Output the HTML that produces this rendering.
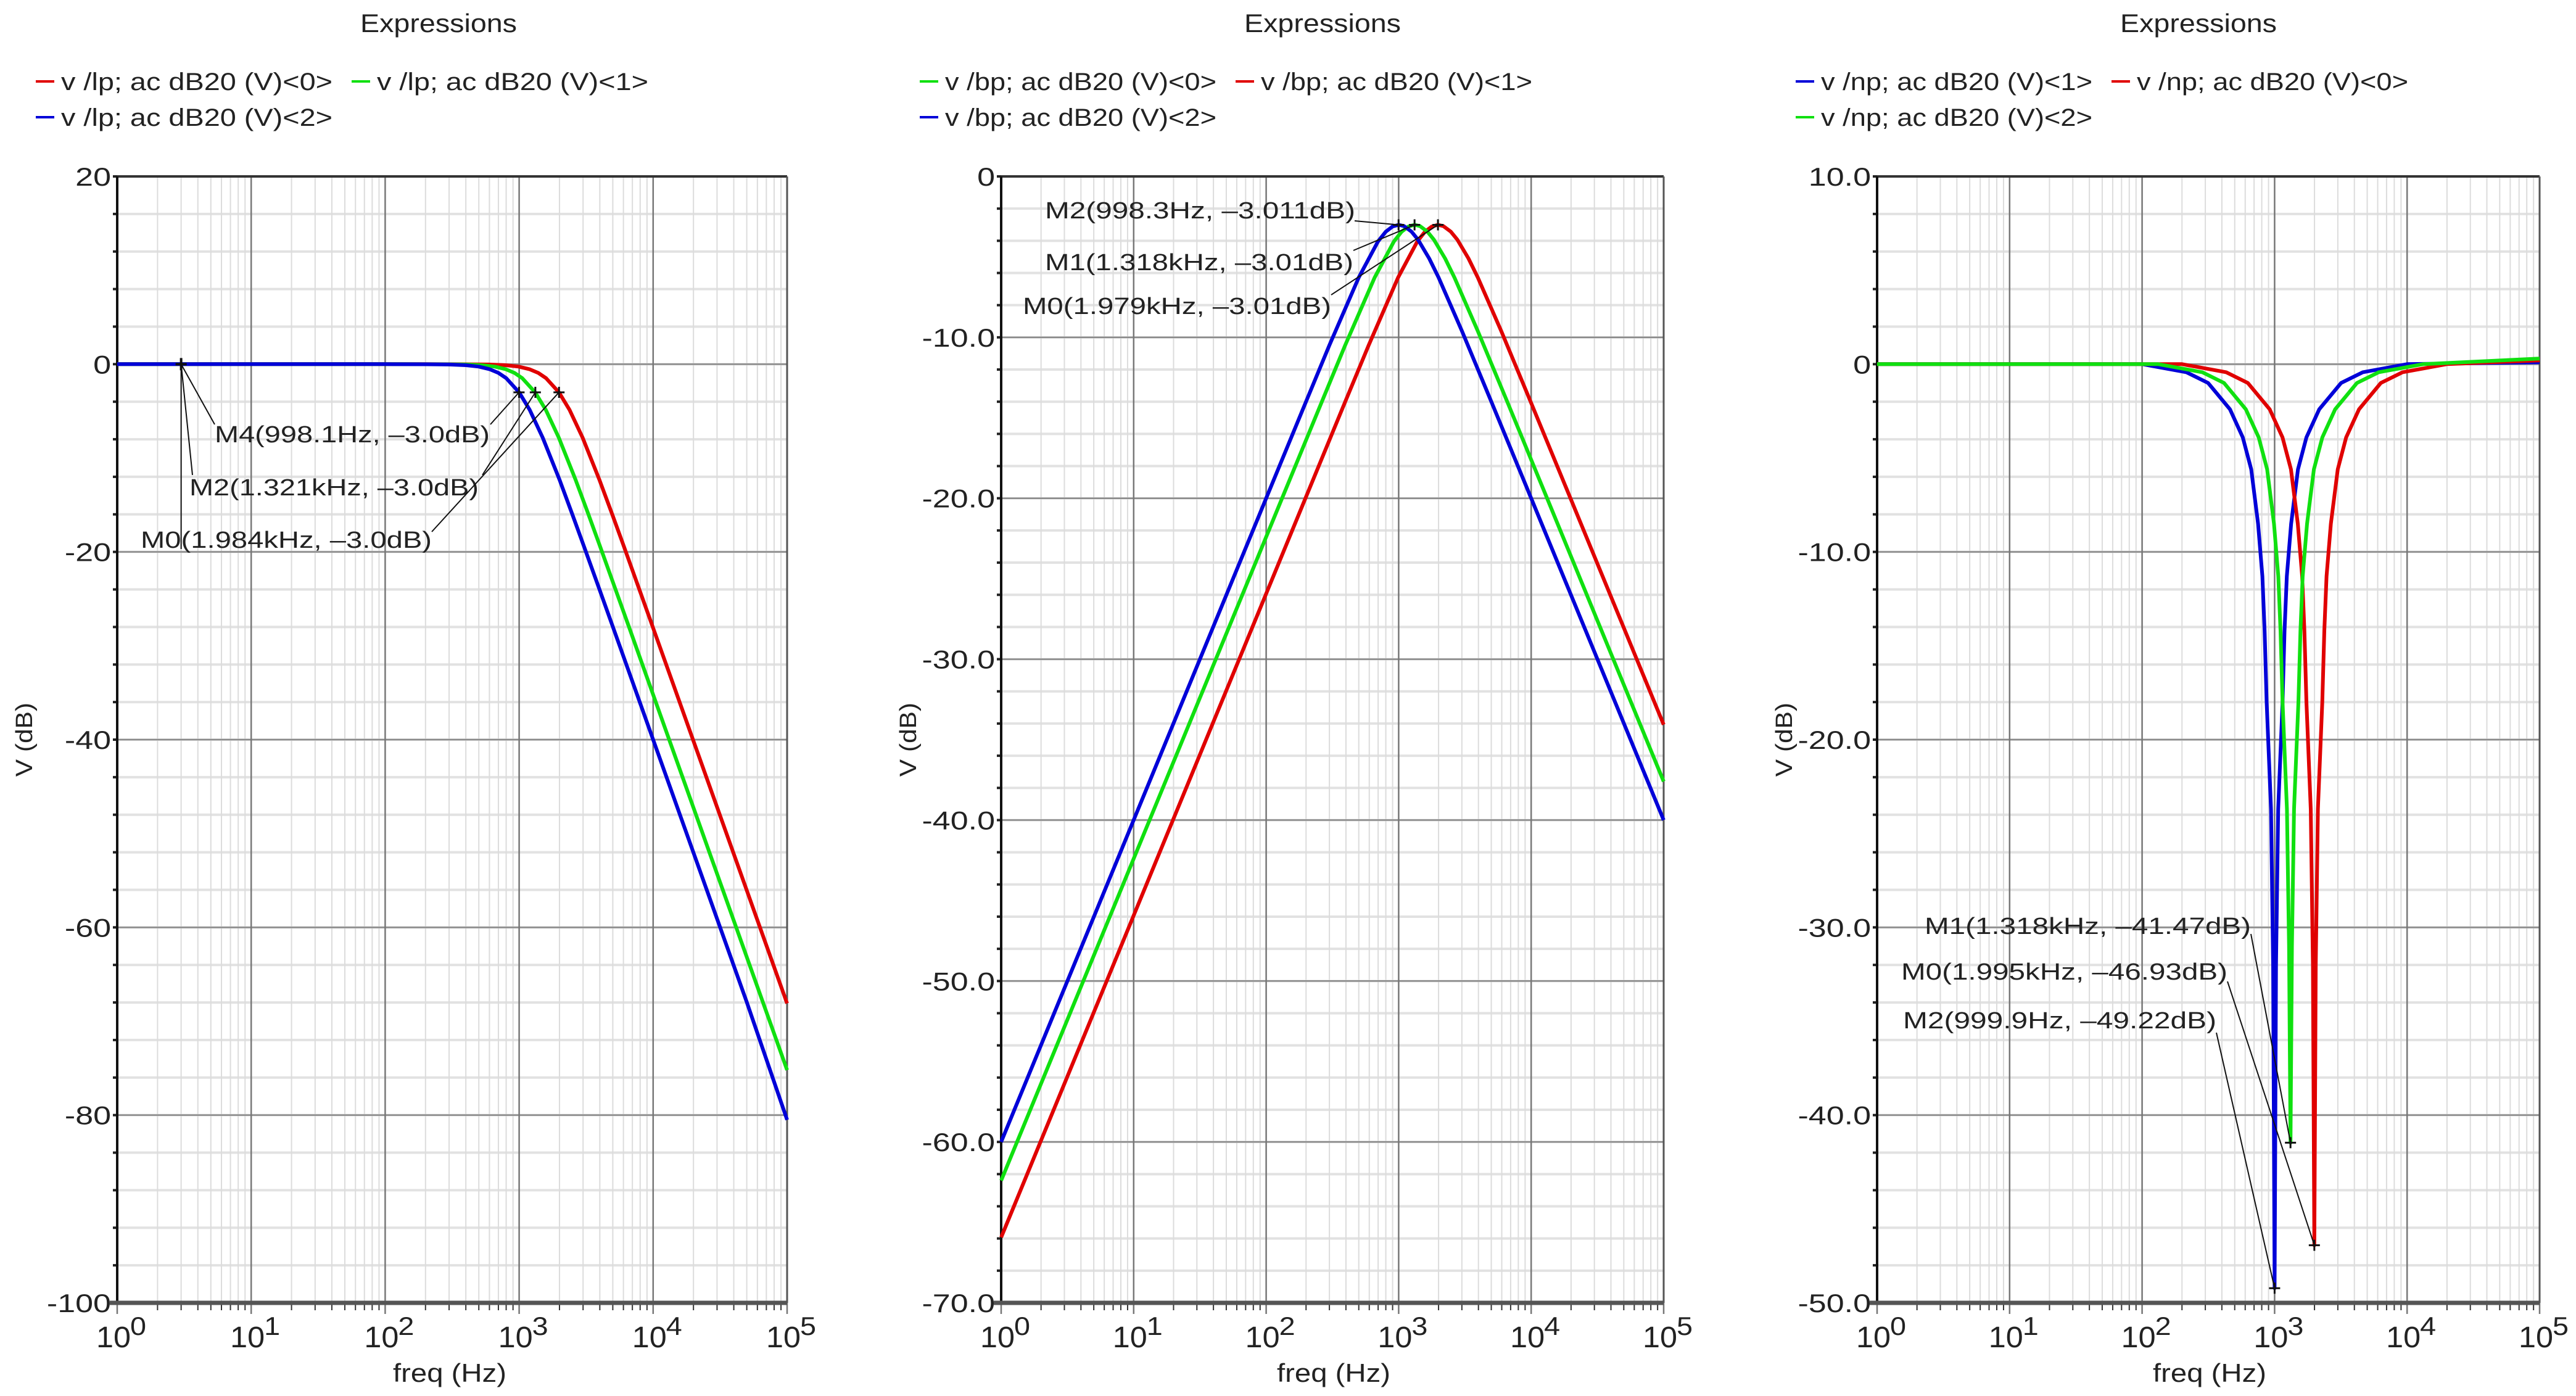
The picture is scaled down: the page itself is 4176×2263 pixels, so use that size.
<!DOCTYPE html>
<html><head><meta charset="utf-8"><style>
html,body{margin:0;padding:0;background:#fff;}
svg{display:block;}
text{font-family:"Liberation Sans","DejaVu Sans",sans-serif;fill:#222;}
</style></head><body>
<svg id="chart" xmlns="http://www.w3.org/2000/svg" width="4176" height="2263" viewBox="0 0 4176 2263"></svg>
<script>
// ---- Low-pass data ----
const lpFreqRed=[1,10,198,397,595,794,992,1190,1389,1587,1984,2381,2976,3968,4960,5952,7936,9920,13888,19840,39680,99200,100000];
const lpDbRed=[0,0,0,-0.01,-0.04,-0.11,-0.26,-0.53,-0.93,-1.49,-3.01,-4.88,-7.83,-12.3,-16.03,-19.14,-24.1,-27.96,-33.8,-40,-52.04,-67.96,-68.1];
const lpFreqGreen=[1,10,132,264,395,527,659,791,923,1054,1318,1582,1977,2636,3295,3954,5272,6590,9226,13180,26360,65900,100000];
const lpDbGreen=[0,0,0,-0.01,-0.04,-0.11,-0.26,-0.53,-0.93,-1.49,-3.01,-4.88,-7.83,-12.3,-16.03,-19.14,-24.1,-27.96,-33.8,-40,-52.04,-67.96,-75.2];
const lpFreqBlue=[1,10,100,200,300,400,500,600,700,800,1000,1200,1500,2000,2500,3000,4000,5000,7000,10000,20000,50000,100000];
const lpDbBlue=[0,0,0,-0.01,-0.04,-0.11,-0.26,-0.53,-0.93,-1.49,-3.01,-4.88,-7.83,-12.3,-16.03,-19.14,-24.1,-27.96,-33.8,-40,-52.04,-67.96,-80.5];
const lpMarkerFreq=[998.1,1321,1984];
const lpMarkerDb=[-3.0,-3.0,-3.0];
const lpMarkerLabels=["M4(998.1Hz, \u20133.0dB)","M2(1.321kHz, \u20133.0dB)","M0(1.984kHz, \u20133.0dB)"];
// ---- Band-pass data ----
const bpFreqRed=[1,19.79,197.9,395.8,594,990,1385,1583,1781,1979,2177,2474,2771,3364,3958,5937,9895,19790,59370,100000];
const bpDbRed=[-65.93,-40,-20,-13.99,-10.49,-6.28,-4.03,-3.43,-3.11,-3.01,-3.09,-3.43,-3.93,-5.1,-6.28,-9.6,-13.99,-20,-29.54,-34.07];
const bpFreqGreen=[1,13.18,131.8,263.6,395,659,923,1054,1186,1318,1450,1648,1845,2241,2636,3954,6590,13180,39540,100000];
const bpDbGreen=[-62.4,-40,-20,-13.99,-10.49,-6.28,-4.03,-3.43,-3.11,-3.01,-3.09,-3.43,-3.93,-5.1,-6.28,-9.6,-13.99,-20,-29.54,-37.6];
const bpFreqBlue=[1,10,100,200,300,500,700,800,900,1000,1100,1250,1400,1700,2000,3000,5000,10000,30000,100000];
const bpDbBlue=[-60,-40,-20,-13.99,-10.49,-6.28,-4.03,-3.43,-3.11,-3.01,-3.09,-3.43,-3.93,-5.1,-6.28,-9.6,-13.99,-20,-29.54,-40];
const bpMarkerFreq=[998.3,1318,1979];
const bpMarkerDb=[-3.011,-3.01,-3.01];
const bpMarkerLabels=["M2(998.3Hz, \u20133.011dB)","M1(1.318kHz, \u20133.01dB)","M0(1.979kHz, \u20133.01dB)"];
// ---- Notch data ----
const npFreqBlue=[1,100,216,315,460,575,666,750,809,841,871,940,975,999.9,1025,1064,1148,1189,1236,1333,1502,1739,2174,3175,4630,10000,100000];
const npDbBlue=[0,0,-0.43,-1.0,-2.4,-3.9,-5.6,-8.5,-11.3,-14.2,-18.0,-23.7,-32,-49.22,-32,-23.7,-18.0,-14.2,-11.3,-8.5,-5.6,-3.9,-2.4,-1.0,-0.43,0,0.1];
const npFreqRed=[1,200,431,628,918,1147,1329,1496,1614,1678,1738,1875,1945,1995,2045,2123,2290,2372,2466,2659,2996,3469,4337,6334,9237,19950,100000];
const npDbRed=[0,0,-0.43,-1.0,-2.4,-3.9,-5.6,-8.5,-11.3,-14.2,-18.0,-23.7,-32,-46.93,-32,-23.7,-18.0,-14.2,-11.3,-8.5,-5.6,-3.9,-2.4,-1.0,-0.43,0,0.2];
const npFreqGreen=[1,132,285,415,606,758,878,989,1066,1108,1148,1239,1285,1318,1351,1402,1513,1567,1629,1757,1980,2292,2865,4185,6102,13180,100000];
const npDbGreen=[0,0,-0.43,-1.0,-2.4,-3.9,-5.6,-8.5,-11.3,-14.2,-18.0,-23.7,-31,-41.47,-31,-23.7,-18.0,-14.2,-11.3,-8.5,-5.6,-3.9,-2.4,-1.0,-0.43,0,0.3];
const npMarkerFreq=[1318,1995,999.9];
const npMarkerDb=[-41.47,-46.93,-49.22];
const npMarkerLabels=["M1(1.318kHz, \u201341.47dB)","M0(1.995kHz, \u201346.93dB)","M2(999.9Hz, \u201349.22dB)"];
// ---- tick labels ----
const lpYTicks=[20,0,-20,-40,-60,-80,-100];
const lpYLabels=["20","0","-20","-40","-60","-80","-100"];
const bpYTicks=[0,-10,-20,-30,-40,-50,-60,-70];
const bpYLabels=["0","-10.0","-20.0","-30.0","-40.0","-50.0","-60.0","-70.0"];
const npYTicks=[10,0,-10,-20,-30,-40,-50];
const npYLabels=["10.0","0","-10.0","-20.0","-30.0","-40.0","-50.0"];
const xDecades=[0,1,2,3,4,5];

const NS="http://www.w3.org/2000/svg";
const svg=document.getElementById('chart');
const RED="#e00000",GREEN="#10e010",BLUE="#0000d8";
function mk(tag,attrs,parent){const e=document.createElementNS(NS,tag);for(const k in attrs)e.setAttribute(k,attrs[k]);(parent||svg).appendChild(e);return e;}
const EM={'0':.556,'1':.556,'2':.556,'3':.556,'4':.556,'5':.556,'6':.556,'7':.556,'8':.556,'9':.556,'-':.333,'.':.278};
function tw(s,px){let w=0;for(const c of s)w+=(EM[c]||.556);return w*px;}

function drawPlot(cfg){
  const g=mk('g',{});
  
  
  const L=cfg.left,R=cfg.right,T=286,B=2112;
  const xs=f=>L+(Math.log10(f))/5*(R-L);
  const ys=v=>T+(cfg.ymax-v)/(cfg.ymax-cfg.ymin)*(B-T);
  const t=mk('text',{x:L+521,y:52,'text-anchor':'middle','font-size':42,textLength:254,lengthAdjust:'spacingAndGlyphs'},g);
  t.textContent='Expressions';
  
  
  cfg.legend.forEach((le,i)=>{
    const lx=L-132+(i===1?512:0), ly=(i===2?190:132);
    const lg=mk('g',{},g);
    
    
    mk('line',{x1:lx,y1:ly,x2:lx+30,y2:ly,stroke:le.c,'stroke-width':4},lg);
    const tx=mk('text',{x:lx+41,y:ly+14,'font-size':40,textLength:440,lengthAdjust:'spacingAndGlyphs'},lg);
    tx.textContent=le.t;
  });
  const grid=mk('g',{},g);
  
  
  for(let v=cfg.ymax;v>=cfg.ymin-1e-9;v-=cfg.minor){
    const y=ys(v);
    mk('line',{x1:L,y1:y,x2:R,y2:y,stroke:'#e2e2e2','stroke-width':4},grid);
    mk('line',{x1:L-7,y1:y,x2:L,y2:y,stroke:'#222','stroke-width':4},grid);
  }
  for(let d=0;d<5;d++)for(let k=2;k<=9;k++){
    const x=xs(k*Math.pow(10,d));
    mk('line',{x1:x,y1:T,x2:x,y2:B,stroke:'#dcdcdc','stroke-width':2},grid);
    mk('line',{x1:x,y1:B,x2:x,y2:B+12,stroke:'#333','stroke-width':2},grid);
  }
  cfg.yt.forEach(v=>{const y=ys(v);mk('line',{x1:L,y1:y,x2:R,y2:y,stroke:'#8a8a8a','stroke-width':2.5},grid);});
  xDecades.forEach(d=>{const x=xs(Math.pow(10,d));mk('line',{x1:x,y1:T,x2:x,y2:B+18,stroke:'#777','stroke-width':2.5},grid);});
  mk('line',{x1:L,y1:T,x2:R,y2:T,stroke:'#333','stroke-width':4},g);
  mk('line',{x1:R,y1:T,x2:R,y2:B,stroke:'#555','stroke-width':3},g);
  mk('line',{x1:L,y1:T,x2:L,y2:B,stroke:'#111','stroke-width':4},g);
  mk('line',{x1:L-12,y1:B,x2:R,y2:B,stroke:'#555','stroke-width':7},g);
  cfg.yt.forEach((v,i)=>{
    const s=cfg.yl[i];
    const tx=mk('text',{x:L-10,y:ys(v)+15,'text-anchor':'end','font-size':42,textLength:tw(s,52).toFixed(1),lengthAdjust:'spacingAndGlyphs'},g);
    tx.textContent=s;
    
    
  });
  xDecades.forEach(d=>{
    const x=xs(Math.pow(10,d));
    const tx=mk('text',{x:x-34,y:2184,'font-size':48,textLength:56,lengthAdjust:'spacingAndGlyphs'},g);
    tx.textContent='10';
    
    
    const sp=mk('text',{x:x+21,y:2164,'font-size':42,textLength:26,lengthAdjust:'spacingAndGlyphs'},g);
    sp.textContent=String(d);
  });
  const xl=mk('text',{x:L+539,y:2240,'text-anchor':'middle','font-size':42,textLength:184,lengthAdjust:'spacingAndGlyphs'},g);
  xl.textContent='freq (Hz)';
  
  
  const yl=mk('text',{x:0,y:0,'text-anchor':'middle','font-size':38,textLength:120,lengthAdjust:'spacingAndGlyphs',transform:`translate(${L-138},1199) rotate(-90)`},g);
  yl.textContent='V (dB)';
  
  
  cfg.series.forEach(s=>{
    let d='';
    s.f.forEach((f,i)=>{d+=(i?'L':'M')+xs(f).toFixed(1)+','+ys(s.v[i]).toFixed(1);});
    const p=mk('path',{d:d,fill:'none',stroke:s.c,'stroke-width':6,'stroke-linejoin':'round'},g);
    
    
  });
  cfg.mf.forEach((f,i)=>{
    const mx=xs(f),my=ys(cfg.mv[i]);
    const lab=cfg.lab[i];
    mk('line',{x1:lab.ex,y1:lab.ey,x2:mx,y2:my,stroke:'#111','stroke-width':2},g);
    const m=mk('path',{d:`M${mx-9},${my}H${mx+9}M${mx},${my-9}V${my+9}`,stroke:'#111','stroke-width':3},g);
    
    
    const tx=mk('text',{x:lab.x,y:lab.y,'font-size':38,textLength:lab.w,lengthAdjust:'spacingAndGlyphs'},g);
    tx.textContent=cfg.ml[i];
    
    
  });
  return {xs,ys,g};
}

const p1=drawPlot({name:'lowpass-plot',left:190,right:1276,ymax:20,ymin:-100,minor:4,yt:lpYTicks,yl:lpYLabels,
  legend:[{c:RED,t:'v /lp; ac dB20 (V)<0>'},{c:GREEN,t:'v /lp; ac dB20 (V)<1>'},{c:BLUE,t:'v /lp; ac dB20 (V)<2>'}],
  series:[{name:'lp-series-0',c:RED,f:lpFreqRed,v:lpDbRed},{name:'lp-series-1',c:GREEN,f:lpFreqGreen,v:lpDbGreen},{name:'lp-series-2',c:BLUE,f:lpFreqBlue,v:lpDbBlue}],
  mf:lpMarkerFreq,mv:lpMarkerDb,ml:lpMarkerLabels,
  lab:[{x:348,y:717,w:446,ex:795,ey:688},{x:307,y:803,w:469,ex:782,ey:770},{x:228,y:888,w:472,ex:700,ey:862}]});
(function(){
  const rx=p1.xs(3),ry=p1.ys(0);
  mk('line',{x1:rx,y1:ry,x2:348,y2:688,stroke:'#111','stroke-width':2},p1.g);
  mk('line',{x1:rx,y1:ry,x2:312,y2:770,stroke:'#111','stroke-width':2},p1.g);
  mk('line',{x1:rx,y1:ry,x2:rx,y2:890,stroke:'#111','stroke-width':2},p1.g);
  const m=mk('path',{d:`M${rx-9},${ry}H${rx+9}M${rx},${ry-10}V${ry+10}`,stroke:'#111','stroke-width':4},p1.g);
  
  
})();
drawPlot({name:'bandpass-plot',left:1623,right:2697,ymax:0,ymin:-70,minor:2,yt:bpYTicks,yl:bpYLabels,
  legend:[{c:GREEN,t:'v /bp; ac dB20 (V)<0>'},{c:RED,t:'v /bp; ac dB20 (V)<1>'},{c:BLUE,t:'v /bp; ac dB20 (V)<2>'}],
  series:[{name:'bp-series-red',c:RED,f:bpFreqRed,v:bpDbRed},{name:'bp-series-green',c:GREEN,f:bpFreqGreen,v:bpDbGreen},{name:'bp-series-blue',c:BLUE,f:bpFreqBlue,v:bpDbBlue}],
  mf:bpMarkerFreq,mv:bpMarkerDb,ml:bpMarkerLabels,
  lab:[{x:1694,y:354,w:503,ex:2196,ey:358},{x:1694,y:438,w:500,ex:2194,ey:406},{x:1658,y:509,w:500,ex:2158,ey:478}]});
drawPlot({name:'notch-plot',left:3043,right:4117,ymax:10,ymin:-50,minor:2,yt:npYTicks,yl:npYLabels,
  legend:[{c:BLUE,t:'v /np; ac dB20 (V)<1>'},{c:RED,t:'v /np; ac dB20 (V)<0>'},{c:GREEN,t:'v /np; ac dB20 (V)<2>'}],
  series:[{name:'np-series-blue',c:BLUE,f:npFreqBlue,v:npDbBlue},{name:'np-series-red',c:RED,f:npFreqRed,v:npDbRed},{name:'np-series-green',c:GREEN,f:npFreqGreen,v:npDbGreen}],
  mf:npMarkerFreq,mv:npMarkerDb,ml:npMarkerLabels,
  lab:[{x:3120,y:1514,w:529,ex:3649,ey:1514},{x:3082,y:1588,w:529,ex:3611,ey:1591},{x:3085,y:1667,w:508,ex:3593,ey:1674}]});
</script>
</body></html>
